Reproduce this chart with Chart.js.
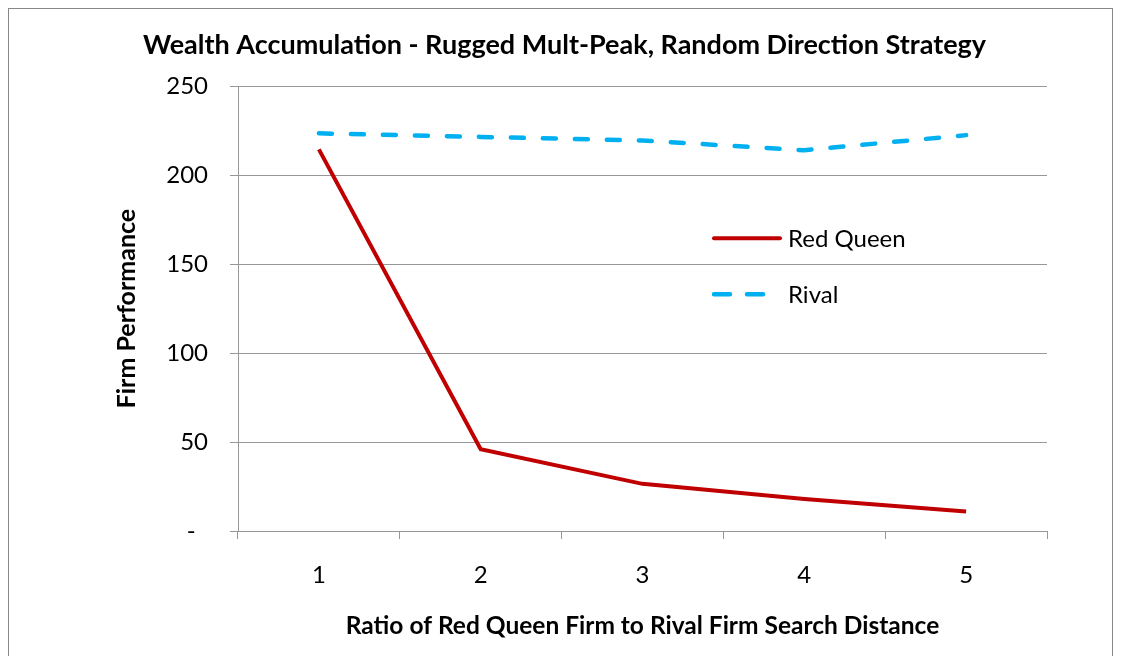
<!DOCTYPE html>
<html>
<head>
<meta charset="utf-8">
<script src="https://cdn.jsdelivr.net/npm/chart.js@4"></script>
<style>
  body { margin: 0; background: #fff; }
  #wrap { width: 1121px; height: 656px; }
</style>
</head>
<body>
<div id="wrap"><canvas id="chart" width="1121" height="656"></canvas></div>
<script>
const ratios = ['1', '2', '3', '4', '5'];
const redQueen = [214.5, 46, 26.5, 18, 11];
const rival = [223.5, 221.5, 219.5, 214, 222.5];

const titleText = 'Wealth Accumulation - Rugged Mult-Peak, Random Direction Strategy';
const xTitle = 'Ratio of Red Queen Firm to Rival Firm Search Distance';
const yTitle = 'Firm Performance';

const gridColor = '#979797';
const fontFamily = 'Lato, "Open Sans", sans-serif';

// frame around the whole chart, like the spreadsheet export
const framePlugin = {
  id: 'frame',
  beforeDraw(chart) {
    const ctx = chart.ctx;
    ctx.save();
    ctx.fillStyle = '#fff';
    ctx.fillRect(0, 0, chart.width, chart.height);
    ctx.strokeStyle = '#888';
    ctx.lineWidth = 1;
    ctx.strokeRect(8.5, 8.5, chart.width - 17, chart.height + 20);
    ctx.restore();
  }
};

// legend drawn inside the plot area
const insideLegend = {
  id: 'insideLegend',
  afterDatasetsDraw(chart) {
    const ctx = chart.ctx;
    const area = chart.chartArea;
    const x0 = area.left + 474;
    const rows = [area.top + 152, area.top + 208];
    ctx.save();
    chart.data.datasets.forEach((ds, i) => {
      const y = rows[i];
      const dashed = !!ds.borderDash;
      ctx.beginPath();
      ctx.strokeStyle = ds.borderColor;
      ctx.lineWidth = ds.borderWidth;
      ctx.lineCap = 'round';
      ctx.setLineDash(dashed ? [16, 17] : []);
      ctx.moveTo(x0 + 2, y);
      ctx.lineTo(x0 + (dashed ? 52 : 68), y);
      ctx.stroke();
      ctx.setLineDash([]);
      ctx.fillStyle = '#000';
      ctx.font = '24px ' + fontFamily;
      ctx.textBaseline = 'middle';
      ctx.textAlign = 'left';
      ctx.fillText(ds.label, x0 + 76, y + 1);
    });
    ctx.restore();
  }
};

new Chart(document.getElementById('chart'), {
  type: 'line',
  data: {
    labels: ratios,
    datasets: [
      {
        label: 'Red Queen',
        data: redQueen,
        borderColor: '#C00000',
        borderWidth: 4,
        pointRadius: 0,
        tension: 0
      },
      {
        label: 'Rival',
        data: rival,
        borderColor: '#00B0F0',
        borderWidth: 4.5,
        borderDash: [13, 19],
        borderCapStyle: 'round',
        pointRadius: 0,
        tension: 0
      }
    ]
  },
  plugins: [framePlugin, insideLegend],
  options: {
    responsive: false,
    animation: false,
    layout: { padding: { left: 8, right: 0, top: 0, bottom: 0 } },
    plugins: {
      legend: { display: false },
      tooltip: { enabled: false },
      title: {
        display: true,
        text: titleText,
        color: '#000',
        font: { family: fontFamily, size: 27, weight: 'bold' },
        padding: { top: 28.8, bottom: 25 }
      }
    },
    scales: {
      x: {
        offset: true,
        grid: { offset: true, drawOnChartArea: false, color: gridColor, tickLength: 8 },
        border: { color: gridColor },
        ticks: { color: '#000', font: { family: fontFamily, size: 24 }, padding: 22, maxRotation: 0 },
        title: {
          display: true,
          text: xTitle,
          color: '#000',
          font: { family: fontFamily, size: 24.5, weight: 'bold' },
          padding: { top: 0, bottom: 15 }
        },
        afterFit(scale) { scale.height = 125; }
      },
      y: {
        min: 0,
        max: 250,
        ticks: {
          stepSize: 50,
          color: '#000',
          font: { family: fontFamily, size: 24 },
          padding: 22,
          callback: v => v === 0 ? '-  ' : v
        },
        grid: { color: gridColor, tickLength: 8 },
        border: { color: gridColor },
        title: {
          display: true,
          text: yTitle,
          color: '#000',
          font: { family: fontFamily, size: 25, weight: 'bold' },
          padding: { top: 104, bottom: 0 }
        },
        afterFit(scale) { scale.width = 230; }
      },
      // empty right axis, only reserves the blank strip right of the plot
      yRight: {
        position: 'right',
        min: 0,
        max: 250,
        ticks: { display: false },
        grid: { drawOnChartArea: false, drawTicks: false },
        border: { display: false },
        afterFit(scale) { scale.width = 74; }
      }
    }
  }
});
</script>
</body>
</html>
